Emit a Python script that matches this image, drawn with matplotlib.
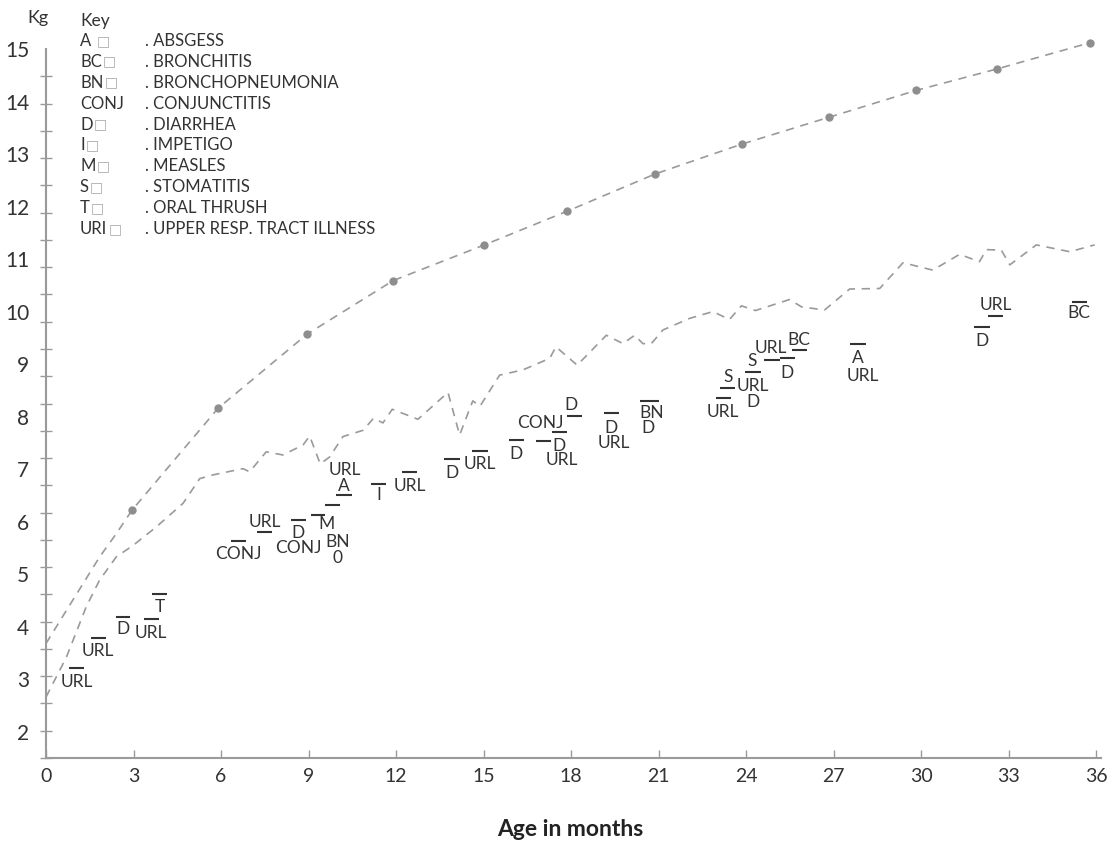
import numpy as np
import matplotlib.pyplot as plt

plt.rcParams['font.family'] = ['Lato', 'DejaVu Sans']

# upper reference curve (kg by month), dots every 3 months
ref_months = [0, 0.7, 1.84, 2.42, 2.95, 5.9, 8.95, 11.9, 15.03, 17.86,
              20.88, 23.86, 26.84, 29.82, 32.6, 35.79]
ref_kg = [3.68, 4.31, 5.33, 5.78, 6.22, 8.16, 9.57, 10.59, 11.27, 11.91,
          12.62, 13.19, 13.70, 14.21, 14.62, 15.12]
ref_dots = list(range(4, len(ref_months)))

# child's weight curve
child_months = [0.0, 0.70, 1.38, 1.84, 2.41, 2.99, 3.78, 4.70, 5.27, 5.72,
                6.75, 6.98, 7.55, 8.12, 8.81, 9.04, 9.40, 9.72, 10.18, 10.87,
                11.23, 11.55, 11.87, 12.75, 13.78, 14.18, 14.63, 14.88, 15.55, 16.35,
                17.27, 17.48, 18.21, 19.21, 19.78, 20.18, 20.46, 20.75, 21.15, 22.06,
                22.86, 23.43, 23.84, 24.32, 25.49, 25.90, 26.69, 27.55, 28.58, 29.38,
                30.40, 31.32, 32.00, 32.24, 32.75, 33.04, 33.95, 35.10, 35.95]
child_kg = [2.66, 3.42, 4.38, 4.89, 5.33, 5.55, 5.90, 6.35, 6.82, 6.89,
            7.01, 6.95, 7.33, 7.27, 7.46, 7.63, 7.10, 7.23, 7.62, 7.74,
            7.97, 7.88, 8.14, 7.95, 8.46, 7.65, 8.30, 8.20, 8.79, 8.89,
            9.11, 9.33, 8.98, 9.55, 9.39, 9.55, 9.39, 9.39, 9.65, 9.87,
            10.00, 9.85, 10.11, 10.02, 10.23, 10.09, 10.03, 10.43, 10.44, 10.93,
            10.79, 11.09, 10.95, 11.18, 11.17, 10.89, 11.27, 11.14, 11.27]

# illness codes written on the chart
ill_text = ['URL', 'URL', 'D', 'URL', 'T', 'CONJ', 'URL', 'D', 'CONJ', 'M',
            'BN', '0', 'A', 'URL', 'I', 'URL', 'D', 'URL', 'D', 'CONJ',
            'D', 'D', 'URL', 'D', 'URL', 'BN', 'D', 'URL', 'S', 'URL',
            'D', 'S', 'URL', 'D', 'BC', 'A', 'URL', 'URL', 'D', 'BC']
ill_months = [1.04, 1.78, 2.64, 3.61, 3.89, 6.58, 7.49, 8.64, 8.64, 9.61,
              10.01, 10.01, 10.21, 10.24, 11.40, 12.47, 13.93, 14.86, 16.10, 16.95,
              18.01, 17.58, 17.67, 19.38, 19.47, 20.75, 20.65, 23.21, 23.38, 24.23,
              24.23, 24.21, 24.86, 25.40, 25.80, 27.83, 28.00, 32.55, 32.10, 35.41]
ill_kg = [2.94, 3.54, 3.95, 3.88, 4.38, 5.39, 6.00, 5.79, 5.49, 5.95,
          5.62, 5.30, 6.68, 6.98, 6.50, 6.68, 6.92, 7.09, 7.29, 7.88,
          8.22, 7.44, 7.17, 7.78, 7.50, 8.07, 7.78, 8.09, 8.76, 8.58,
          8.27, 9.06, 9.30, 8.84, 9.46, 9.11, 8.78, 10.12, 9.44, 9.98]

# short bars over / under the codes
bar_start = [0.78, 1.55, 2.39, 3.36, 3.64, 6.35, 7.24, 8.39, 9.07, 9.57,
             9.95, 11.13, 12.20, 13.66, 14.61, 15.86, 17.34, 17.87, 16.81, 19.13,
             20.38, 22.96, 23.09, 23.98, 24.61, 25.15, 25.57, 27.57, 32.29, 31.83,
             35.18]
bar_end = [1.29, 2.04, 2.89, 3.86, 4.14, 6.87, 7.76, 8.90, 9.58, 10.09,
           10.49, 11.67, 12.73, 14.20, 15.15, 16.37, 17.86, 18.39, 17.32, 19.64,
           21.01, 23.49, 23.63, 24.52, 25.15, 25.69, 26.08, 28.10, 32.80, 32.35,
           35.68]
bar_kg = [3.22, 3.79, 4.19, 4.14, 4.63, 5.64, 5.81, 6.03, 6.12, 6.31,
          6.50, 6.71, 6.95, 7.19, 7.35, 7.55, 7.70, 8.02, 7.54, 8.06,
          8.30, 8.35, 8.55, 8.85, 9.08, 9.12, 9.27, 9.38, 9.92, 9.70,
          10.18]

key_codes = ['A ', 'BC', 'BN', 'CONJ', 'D', 'I', 'M', 'S', 'T', 'URI']
key_names = ['. ABSGESS', '. BRONCHITIS', '. BRONCHOPNEUMONIA', '. CONJUNCTITIS',
             '. DIARRHEA', '. IMPETIGO', '. MEASLES', '. STOMATITIS',
             '. ORAL THRUSH', '. UPPER RESP. TRACT ILLNESS']

txt = '#333333'
grey = '#9a9a9a'

fig = plt.figure(figsize=(11.2, 8.47), dpi=100)
ax = fig.add_axes([46 / 1120, 89 / 847, 1054.5 / 1120, 719.5 / 847])

ax.plot(ref_months, ref_kg, ls=(0, (5, 4)), color=grey, lw=1.2,
        marker='o', markevery=ref_dots, ms=5, mfc='#8e8e8e', mec='#8e8e8e')
ax.plot(child_months, child_kg, ls=(0, (5, 4)), color=grey, lw=1.2)

for t, m, k in zip(ill_text, ill_months, ill_kg):
    ax.text(m, k, t, ha='center', va='center', fontsize=12.5, color=txt)
ax.hlines(bar_kg, bar_start, bar_end, color=txt, lw=1.5)

ax.set_xlim(0, 36.15)
ax.set_ylim(1.5, 15.2)
for s in ['top', 'right']:
    ax.spines[s].set_visible(False)
ax.spines['left'].set_bounds(1.5, 15)
ax.spines['left'].set_color(grey)
ax.spines['bottom'].set_color(grey)
ax.spines['left'].set_linewidth(1.5)
ax.spines['bottom'].set_linewidth(1.5)

ax.set_xticks(range(0, 37, 3))
ax.tick_params(axis='x', direction='in', length=6, width=1, color=grey,
               labelsize=14, labelcolor=txt, pad=7)
ax.set_yticks(range(2, 16))
ax.set_yticks(np.linspace(1.5, 15, 27), minor=True)
ax.tick_params(axis='y', which='major', length=0, labelsize=15, labelcolor=txt, pad=12)
ax.tick_params(axis='y', which='minor', direction='inout', length=8, width=1, color=grey)

fig.text(38 / 1120, 1 - 18 / 847, 'Kg', ha='center', va='center', fontsize=13, color=txt)
fig.text(80 / 1120, 1 - 20.7 / 847, 'Key', ha='left', va='center', fontsize=12.5, color=txt)
for i, (c, n) in enumerate(zip(key_codes, key_names)):
    y = 1 - (40.7 + i * 20.96) / 847
    t = fig.text(80 / 1120, y, c, ha='left', va='center', fontsize=12, color=txt)
    if c != 'CONJ':
        # light placeholder box after the code
        fig.canvas.draw()
        bb = t.get_window_extent()
        fig.text((bb.x1 + 1) / 1120, y, '\u25a1', ha='left', va='center',
                 fontsize=10, color='#aaaaaa', family='DejaVu Sans')
    fig.text(145 / 1120, y, n, ha='left', va='center', fontsize=12, color=txt)

fig.text(570 / 1120, 1 - 829 / 847, 'Age in months', ha='center', va='center',
         fontsize=16.5, fontweight='bold', color='#222222')

fig.savefig('out.png', dpi=100)
